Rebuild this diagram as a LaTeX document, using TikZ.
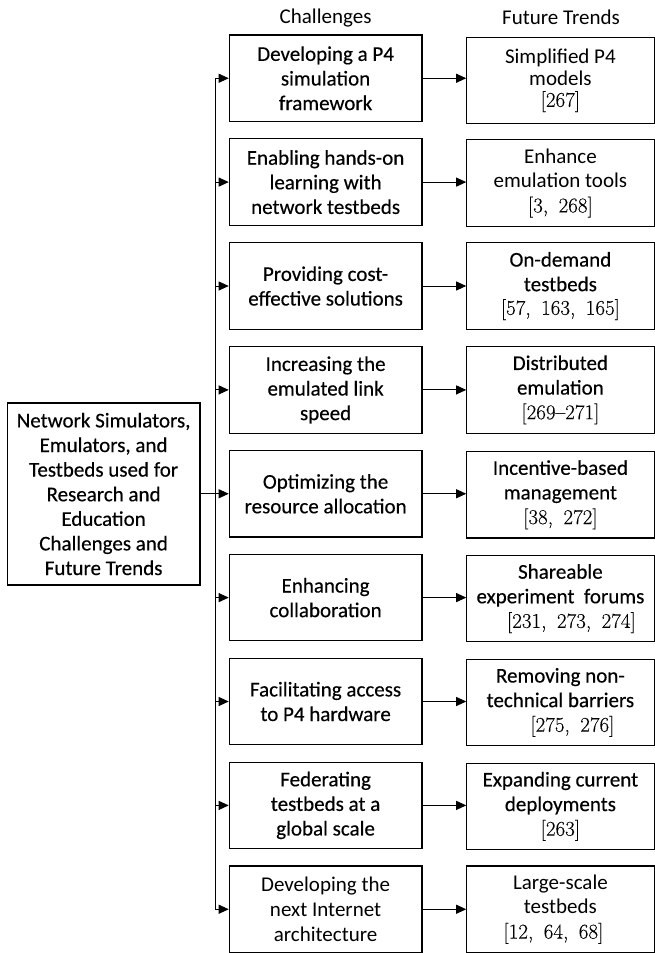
\documentclass[tikz,border=0pt]{standalone}
\usepackage{fontspec}
\newfontfamily\calib{Carlito}
\newfontfamily\calibh{Carlito}[FakeBold=0.35]
\newfontfamily\lmcite{Latin Modern Roman}[FakeBold=0.15]
\usetikzlibrary{arrows.meta}
% citation lists, with the wide gaps after the commas
\newcommand{\refs}[1]{{\lmcite\fontsize{21}{24}\selectfont #1}}
\newcommand{\cgap}{,\hspace{0.5em}}
\begin{document}
\begin{tikzpicture}[x=1pt,y=-1pt,
  box/.style={draw=black, line width=1.1pt, inner sep=0pt, align=center,
    font=\calibh\fontsize{21}{24.6}\selectfont},
  light/.style={font=\calib\fontsize{21}{24.6}\selectfont},
  cbox/.style={box, minimum width=192.7pt, minimum height=86.5pt},
  tbox/.style={box, minimum width=187.3pt, minimum height=86.5pt},
  head/.style={inner sep=0pt, font=\calib\fontsize{21}{24}\selectfont},
  arr/.style={line width=0.9pt, -{Triangle[length=10pt,width=9pt]}},
  link/.style={line width=0.9pt}]
\useasboundingbox (0,0) rectangle (655,953);

% column headings
\node[head] (hc) at (325.6,18) {Challenges};
\node[head] (ht) at (561,17) {Future Trends};

% root box
\node[box, minimum width=192.7pt, minimum height=182pt] (root) at (103.6,494)
  {Network Simulators,\\Emulators, and\\Testbeds used for\\Research and\\Education\\Challenges and\\Future Trends};

% challenges
\node[cbox] (c1) at (325.6,78.25)  {Developing a P4\\simulation\\framework};
\node[cbox] (c2) at (325.6,182.1)  {Enabling hands-on\\learning with\\network testbeds};
\node[cbox] (c3) at (325.6,286.0)  {Providing cost-\\effective solutions};
\node[cbox] (c4) at (325.6,389.9)  {Increasing the\\emulated link\\speed};
\node[cbox] (c5) at (325.6,493.75) {Optimizing the\\resource allocation};
\node[cbox] (c6) at (325.6,597.6)  {Enhancing\\collaboration};
\node[cbox] (c7) at (325.6,701.5)  {Facilitating access\\to P4 hardware};
\node[cbox] (c8) at (325.6,805.4)  {Federating\\testbeds at a\\global scale};
\node[cbox, light] (c9) at (325.6,909.25) {Developing the\\next Internet\\architecture};

% future trends
\node[tbox, light] (t1) at (560.4,80.5)  {Simplified P4\\[-3pt]models\\[-3pt]\refs{[267]}};
\node[tbox, light] (t2) at (560.4,183.1) {Enhance\\emulation tools\\\refs{[3\cgap268]}};
\node[tbox] (t3) at (560.4,286.0) {On-demand\\testbeds\\[-1pt]\refs{[57\cgap163\cgap165]}};
\node[tbox] (t4) at (560.4,389.9) {Distributed\\emulation\\\refs{[269–271]}};
\node[tbox] (t5) at (560.4,494.75) {Incentive-based\\management\\\refs{[38\cgap272]}};
\node[tbox] (t6) at (560.4,598.6) {Shareable\\experiment~ forums\\\refs{\hspace*{22pt}[231\cgap273\cgap274]}};
\node[tbox] (t7) at (560.4,702.5) {Removing non-\\technical barriers\\\refs{\hspace*{24pt}[275\cgap276]}};
\node[tbox] (t8) at (560.4,806.4) {Expanding current\\deployments\\\refs{[263]}};
\node[tbox, light] (t9) at (560.4,909.25) {Large-scale\\testbeds\\\refs{[12\cgap64\cgap68]\hspace*{14pt}}};

% spine feeding the challenge boxes
\coordinate (s1) at (215,78.25);
\coordinate (s9) at (215,909.25);
\draw[link] (s1) -- (s9);
\foreach \i in {1,2,3,4,6,7,8,9}
  \draw[arr] (s1 |- c\i.west) -- (c\i.west);
\draw[arr] (root.east |- c5.west) -- (c5.west);

% challenge -> trend
\foreach \i in {1,...,9}
  \draw[arr] (c\i.east) -- (t\i.west |- c\i.east);
\end{tikzpicture}
\end{document}
